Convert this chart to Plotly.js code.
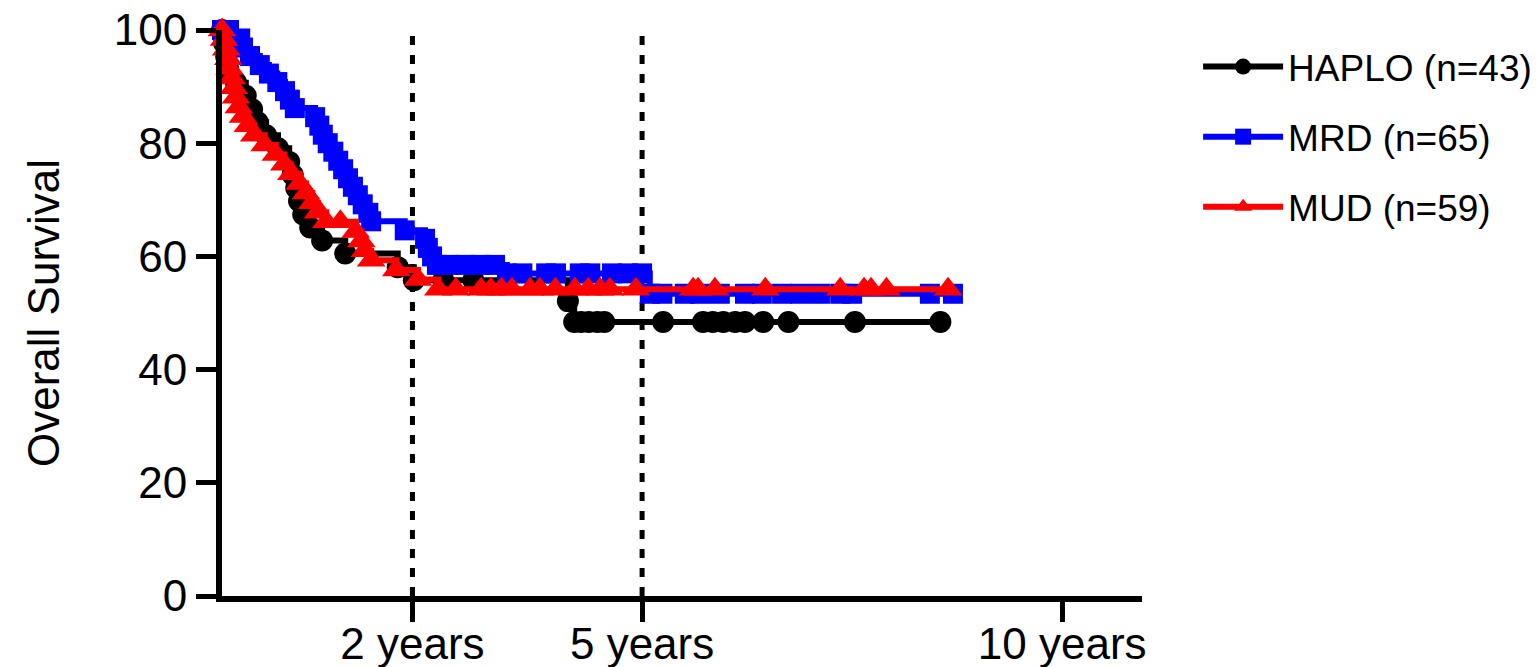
<!DOCTYPE html>
<html><head><meta charset="utf-8">
<script src="https://cdn.plot.ly/plotly-3.0.1.min.js"></script>
<style>html,body{margin:0;padding:0;background:#fff;}#chart{width:1540px;height:667px;}</style>
</head><body><div id="chart"></div>
<script>
// Time in months, survival in %
const haploMonths = [0,0.3,0.6,0.9,2.0,3.4,4.3,5.1,6.3,8.0,9.6,10.1,10.6,11.0,11.6,12.6,14.3,17.6,25.1,27.4,31.6,35.9,49.4,50.3,51.3,52.4,53.6,54.6,63.0,68.7,70.1,71.6,73.3,74.7,77.3,80.9,90.4,102.6];
const haploSurv   = [100,97.7,95.3,93.0,90.7,88.4,86.0,83.7,81.4,79.1,76.7,74.4,72.1,69.8,67.4,65.1,62.8,60.5,58.1,55.8,55.8,55.8,52.1,48.4,48.4,48.4,48.4,48.4,48.4,48.4,48.4,48.4,48.4,48.4,48.4,48.4,48.4,48.4];

const mrdMonths = [0,1.0,2.6,3.0,4.0,5.4,6.7,7.9,9.0,9.7,10.4,13.3,13.9,14.4,15.1,15.9,16.6,17.3,18.0,18.7,19.4,20.1,20.9,21.3,26.1,29.0,29.4,30.0,30.7,32.6,34.7,36.9,39.0,40.7,42.9,46.3,47.7,51.1,52.6,55.7,58.0,60.0,61.1,62.9,66.1,68.3,71.1,74.7,77.1,80.0,82.6,85.4,88.3,90.0,101.1,104.4];
const mrdSurv   = [100,100,98.5,96.9,95.4,93.8,92.3,90.8,89.2,87.7,86.2,84.6,83.1,81.5,80.0,78.5,76.9,75.4,73.8,72.3,70.8,69.2,67.7,66.2,64.6,63.1,61.5,60.0,58.5,58.5,58.5,58.5,58.5,57.0,57.0,57.0,57.0,57.0,57.0,57.0,57.0,57.0,53.4,53.4,53.4,53.4,53.4,53.4,53.4,53.4,53.4,53.4,53.4,53.4,53.4,53.4];

const mudMonths = [0,0.3,0.6,0.9,1.1,1.4,1.7,2.0,2.4,3.0,3.7,4.6,6.1,7.7,8.9,9.9,11.1,12.0,12.9,13.7,14.9,16.9,19.1,19.9,20.4,21.3,24.9,28.0,30.9,33.4,37.0,38.4,39.9,41.4,44.0,45.4,47.6,50.4,52.3,54.0,55.4,59.1,67.3,68.0,70.4,77.6,88.3,91.7,92.7,94.9,103.7];
const mudSurv   = [100,98.3,96.6,94.9,93.2,91.5,89.8,88.1,86.4,84.7,83.1,81.4,79.7,78.0,76.3,74.6,72.9,71.2,69.5,67.8,66.1,66.1,64.4,62.7,61.0,59.3,57.6,55.9,54.2,54.2,54.2,54.2,54.2,54.2,54.2,54.2,54.2,54.2,54.2,54.2,54.2,54.2,54.2,54.2,54.2,54.2,54.2,54.2,54.2,54.2,54.2];

const seriesNames = ['HAPLO (n=43)','MRD (n=65)','MUD (n=59)'];
const seriesColors = ['#000000','#0000FF','#FF0000'];
const seriesSymbols = ['circle','square','triangle-up'];
const seriesSizes = [22,20,25];

const xTickVals = [27.2, 60, 120];
const xTickText = ['2 years','5 years','10 years'];
const yTickVals = [0,20,40,60,80,100];
const refLines = [27.2, 60];

const FONT = 'Liberation Sans, Arial, sans-serif';
const xs = [haploMonths, mrdMonths, mudMonths];
const ys = [haploSurv, mrdSurv, mudSurv];

const traces = xs.map((x, i) => ({
  type: 'scatter', mode: 'lines+markers',
  x: x, y: ys[i], name: seriesNames[i], legendgroup: 'g' + i,
  line: {shape: 'hv', color: seriesColors[i], width: 6},
  marker: {symbol: seriesSymbols[i], size: seriesSizes[i], color: seriesColors[i], line: {width: 0}},
  cliponaxis: false
}));

const shapes = refLines.map(v => ({
  type: 'line', xref: 'x', yref: 'y', x0: v, x1: v, y0: 0, y1: 100.5,
  line: {color: '#000', width: 5, dash: '9px,10px'}, layer: 'below'
}));

const layout = {
  width: 1540, height: 667,
  margin: {l: 222, r: 398, t: 30, b: 71},
  paper_bgcolor: '#fff', plot_bgcolor: '#fff',
  font: {family: FONT, color: '#000'},
  showlegend: true,
  legend: {xref: 'container', yref: 'container', x: 0.778, xanchor: 'left', y: 0.946, yanchor: 'top',
           font: {family: FONT, size: 37, color: '#000'},
           itemwidth: 80, tracegroupgap: 19, bgcolor: 'rgba(0,0,0,0)'},
  xaxis: {range: [0, 131.4], showgrid: false, zeroline: false, automargin: false,
          showline: true, linecolor: '#000', linewidth: 6,
          tickmode: 'array', tickvals: xTickVals, ticktext: xTickText,
          ticks: 'outside', ticklen: 20, tickwidth: 5, tickcolor: '#000',
          ticklabelstandoff: -16,
          tickfont: {family: FONT, size: 44, color: '#000'}},
  yaxis: {range: [0, 100], showgrid: false, zeroline: false, automargin: false,
          showline: true, linecolor: '#000', linewidth: 6,
          tickmode: 'array', tickvals: yTickVals,
          ticks: 'outside', ticklen: 20, tickwidth: 5, tickcolor: '#000',
          tickfont: {family: FONT, size: 44, color: '#000'},
          title: {text: 'Overall Survival', font: {family: FONT, size: 44, color: '#000'}, standoff: 42}},
  shapes: shapes
};

Plotly.newPlot('chart', traces, layout, {displayModeBar: false, staticPlot: true});
</script>
</body></html>
